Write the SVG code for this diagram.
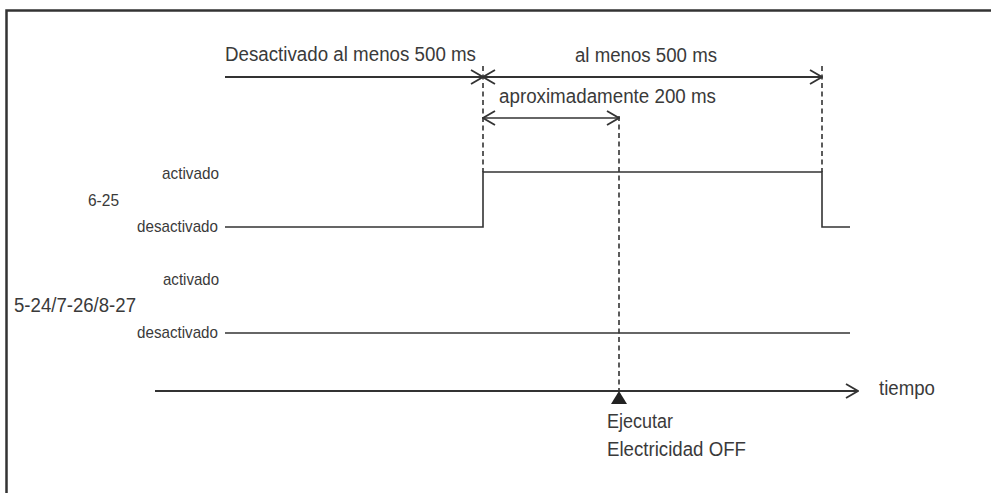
<svg xmlns="http://www.w3.org/2000/svg" width="991" height="493" viewBox="0 0 991 493">
<defs>
<style>
text{font-family:"Liberation Sans",Arial,sans-serif;font-size:20px;fill:#3a3a3a}
.s{font-size:17px}
.sig{fill:none;stroke:#333;stroke-width:1.6}
.dash{fill:none;stroke:#333;stroke-width:1.6;stroke-dasharray:5 3.5}
.arr{fill:none;stroke:#333;stroke-width:2.2}
</style>
<marker id="chev" viewBox="0 0 14 16" refX="13" refY="8" markerWidth="14" markerHeight="16" markerUnits="userSpaceOnUse" orient="auto-start-reverse">
<path d="M1 1 L13 8 L1 15" fill="none" stroke="#333" stroke-width="1.8"/>
</marker>
</defs>
<rect width="991" height="493" fill="#fff"/>
<path d="M6.5 493 V10.5 H991" fill="none" stroke="#333" stroke-width="2.5"/>
<g id="connectors">
<line class="arr" x1="225" y1="77" x2="483" y2="77" marker-end="url(#chev)"/>
<line class="arr" x1="483" y1="77" x2="822" y2="77" marker-start="url(#chev)" marker-end="url(#chev)"/>
<line class="sig" x1="483" y1="118" x2="619" y2="118" marker-start="url(#chev)" marker-end="url(#chev)"/>
<line class="dash" x1="483" y1="66" x2="483" y2="172"/>
<line class="dash" x1="822" y1="66" x2="822" y2="172"/>
<line class="dash" x1="619" y1="116" x2="619" y2="390"/>
<line class="arr" x1="155" y1="391" x2="858" y2="391" marker-end="url(#chev)"/>
</g>
<g id="labels-top">
<text x="225" y="61" textLength="251" lengthAdjust="spacingAndGlyphs">Desactivado al menos 500 ms</text>
<text x="575" y="62" textLength="142" lengthAdjust="spacingAndGlyphs">al menos 500 ms</text>
<text x="499" y="103" textLength="217" lengthAdjust="spacingAndGlyphs">aproximadamente 200 ms</text>
</g>
<g id="signal-6-25">
<text class="s" x="162" y="179" textLength="57" lengthAdjust="spacingAndGlyphs">activado</text>
<text class="s" x="88" y="206" textLength="31" lengthAdjust="spacingAndGlyphs">6-25</text>
<text class="s" x="137" y="232" textLength="81" lengthAdjust="spacingAndGlyphs">desactivado</text>
<path class="sig" d="M225 227 H483 V172 H822 V227 H850"/>
</g>
<g id="signal-5-24">
<text class="s" x="163" y="285" textLength="56" lengthAdjust="spacingAndGlyphs">activado</text>
<text x="14" y="312" textLength="122" lengthAdjust="spacingAndGlyphs">5-24/7-26/8-27</text>
<text class="s" x="137" y="338" textLength="81" lengthAdjust="spacingAndGlyphs">desactivado</text>
<path class="sig" d="M225 333 H850"/>
</g>
<g id="time-axis">
<text x="879" y="395" textLength="56" lengthAdjust="spacingAndGlyphs">tiempo</text>
</g>
<g id="execute">
<path d="M619 391 L627 404 L611 404 Z" fill="#222"/>
<text x="607" y="428" textLength="66" lengthAdjust="spacingAndGlyphs">Ejecutar</text>
<text x="607" y="456" textLength="139" lengthAdjust="spacingAndGlyphs">Electricidad OFF</text>
</g>
</svg>
